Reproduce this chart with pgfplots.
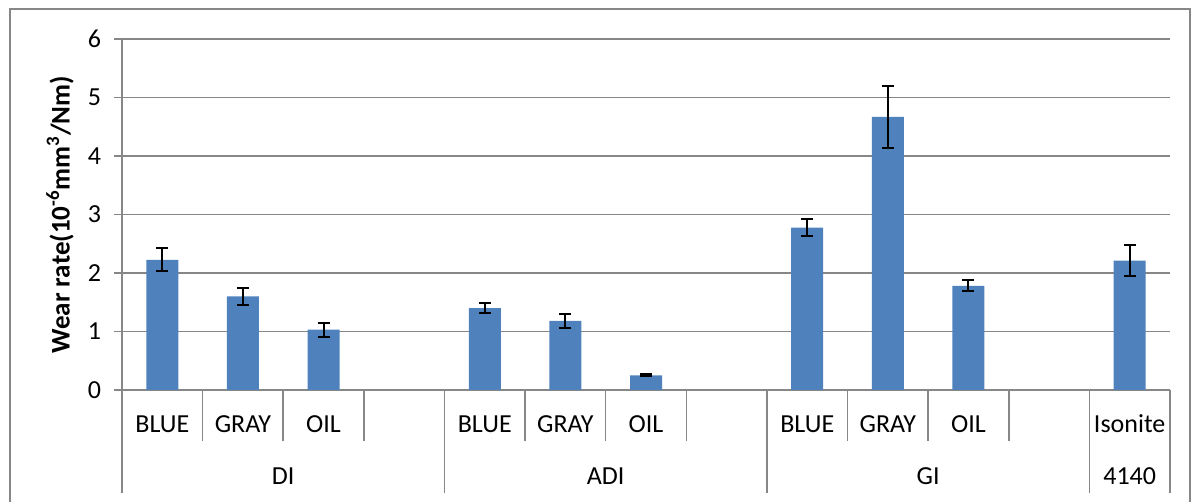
\documentclass[border=0pt]{standalone}
\usepackage{fontspec}
\setmainfont{Carlito}
\usepackage{pgfplots}
\pgfplotsset{compat=1.18}
\definecolor{barblue}{HTML}{4F81BD}
\definecolor{gridgray}{HTML}{878787}
\begin{document}
\begin{tikzpicture}
\draw[gridgray, line width=0.8pt] (5pt,0pt) -- (5pt,246.5pt) -- (595pt,246.5pt) -- (595pt,0pt);
\begin{axis}[
  at={(61pt,56pt)}, anchor=south west,
  scale only axis, width=524pt, height=175.5pt,
  xmin=-0.5, xmax=12.5, ymin=0, ymax=6,
  ytick={0,1,2,3,4,5,6}, xtick=\empty,
  axis x line*=bottom, axis y line*=left,
  axis line style={gridgray, line width=0.8pt, -},
  ymajorgrids, grid style={gridgray, line width=0.8pt},
  tick align=outside, major tick length=4pt,
  tick style={gridgray, line width=0.8pt},
  y tick label style={font=\fontsize{13}{15}\selectfont, xshift=-3pt},
  /pgf/number format/assume math mode=true,
  ylabel={\textbf{Wear rate(10\textsuperscript{-6}mm\textsuperscript{3}/Nm)}},
  ylabel style={font=\fontsize{13.5}{15}\selectfont, at={([xshift=-31pt]axis description cs:0,0.5)}, anchor=center},
  clip=false,
]
\addplot[ybar, bar width=16pt, fill=barblue, draw=none,
  error bars/.cd, y dir=both, y explicit,
  error bar style={draw=black, line width=1pt},
  error mark options={rotate=90, draw=black, line width=1pt, mark size=3pt}]
coordinates {
  (0,2.225) +- (0,0.195)
  (1,1.60) +- (0,0.14)
  (2,1.03) +- (0,0.12)
  (4,1.40) +- (0,0.08)
  (5,1.18) +- (0,0.115)
  (6,0.25) +- (0,0.015)
  (8,2.775) +- (0,0.15)
  (9,4.667) +- (0,0.53)
  (10,1.78) +- (0,0.095)
  (12,2.21) +- (0,0.265)
};
% category separators
\draw[gridgray, line width=0.8pt] (axis cs:-0.5,0) -- ([yshift=-51.5pt]axis cs:-0.5,0);
\draw[gridgray, line width=0.8pt] (axis cs:0.5,0) -- ([yshift=-25.5pt]axis cs:0.5,0);
\draw[gridgray, line width=0.8pt] (axis cs:1.5,0) -- ([yshift=-25.5pt]axis cs:1.5,0);
\draw[gridgray, line width=0.8pt] (axis cs:2.5,0) -- ([yshift=-25.5pt]axis cs:2.5,0);
\draw[gridgray, line width=0.8pt] (axis cs:3.5,0) -- ([yshift=-51.5pt]axis cs:3.5,0);
\draw[gridgray, line width=0.8pt] (axis cs:4.5,0) -- ([yshift=-25.5pt]axis cs:4.5,0);
\draw[gridgray, line width=0.8pt] (axis cs:5.5,0) -- ([yshift=-25.5pt]axis cs:5.5,0);
\draw[gridgray, line width=0.8pt] (axis cs:6.5,0) -- ([yshift=-25.5pt]axis cs:6.5,0);
\draw[gridgray, line width=0.8pt] (axis cs:7.5,0) -- ([yshift=-51.5pt]axis cs:7.5,0);
\draw[gridgray, line width=0.8pt] (axis cs:8.5,0) -- ([yshift=-25.5pt]axis cs:8.5,0);
\draw[gridgray, line width=0.8pt] (axis cs:9.5,0) -- ([yshift=-25.5pt]axis cs:9.5,0);
\draw[gridgray, line width=0.8pt] (axis cs:10.5,0) -- ([yshift=-25.5pt]axis cs:10.5,0);
\draw[gridgray, line width=0.8pt] (axis cs:11.5,0) -- ([yshift=-51.5pt]axis cs:11.5,0);
\draw[gridgray, line width=0.8pt] (axis cs:12.5,0) -- ([yshift=-51.5pt]axis cs:12.5,0);
% category labels
\begin{scope}[every node/.style={font=\fontsize{13}{15}\selectfont, anchor=center, inner sep=0pt}]
\node at (axis cs:0,0) [yshift=-17pt] {BLUE};
\node at (axis cs:1,0) [yshift=-17pt] {GRAY};
\node at (axis cs:2,0) [yshift=-17pt] {OIL};
\node at (axis cs:4,0) [yshift=-17pt] {BLUE};
\node at (axis cs:5,0) [yshift=-17pt] {GRAY};
\node at (axis cs:6,0) [yshift=-17pt] {OIL};
\node at (axis cs:8,0) [yshift=-17pt] {BLUE};
\node at (axis cs:9,0) [yshift=-17pt] {GRAY};
\node at (axis cs:10,0) [yshift=-17pt] {OIL};
\node at (axis cs:12,0) [yshift=-17pt] {Isonite};
\node at (axis cs:1.5,0) [yshift=-43pt] {DI};
\node at (axis cs:5.5,0) [yshift=-43pt] {ADI};
\node at (axis cs:9.5,0) [yshift=-43pt] {GI};
\node at (axis cs:12,0) [yshift=-43pt] {4140};
\end{scope}
\end{axis}
\pgfresetboundingbox
\useasboundingbox (0pt,0pt) rectangle (599.5pt,251pt);
\end{tikzpicture}
\end{document}
